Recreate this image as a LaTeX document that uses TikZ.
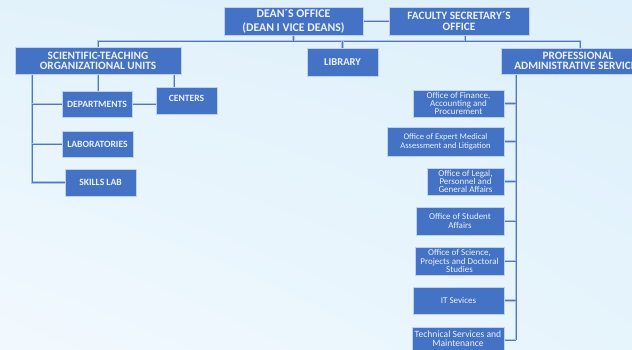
\documentclass[tikz,border=0pt]{standalone}
\usepackage{fontspec}
\setmainfont{Carlito}
\usetikzlibrary{shadings}
\definecolor{boxblue}{RGB}{68,114,196}
\definecolor{boxedge}{RGB}{190,210,238}
\definecolor{lineblue}{RGB}{84,118,194}
\definecolor{halo}{RGB}{170,195,230}
\definecolor{txt}{RGB}{236,241,250}
\definecolor{bgLL}{RGB}{242,249,254}
\definecolor{bgUL}{RGB}{226,242,251}
\definecolor{bgUR}{RGB}{222,240,251}
\definecolor{bgLR}{RGB}{230,244,252}
\pgfdeclarelayer{bglayer}
\pgfdeclarelayer{connlayer}
\pgfsetlayers{bglayer,connlayer,main}
\begin{document}
\begin{tikzpicture}[x=1pt,y=-1pt,
  box/.style={fill=boxblue, draw=boxedge, line width=0.7pt, text=txt, align=center, inner sep=0pt},
  capbox/.style={box, font=\fontsize{11.3}{10}\selectfont\bfseries},
  smallcap/.style={box, font=\fontsize{9.6}{10}\selectfont\bfseries},
  offbox/.style={box, font=\fontsize{9}{8.4}\selectfont},
  conn/.style={draw=lineblue, line width=1pt, preaction={draw=halo, line width=2.2pt}}]
\useasboundingbox (0,0) rectangle (632,349);
\begin{pgfonlayer}{bglayer}
\shade[lower left=bgLL, upper left=bgUL, upper right=bgUR, lower right=bgLR]
  (0,0) rectangle (632,349);
\end{pgfonlayer}
\begin{scope}
\clip (0,0) rectangle (632,349);
% nodes
\node[capbox, minimum width=139, minimum height=28, font=\fontsize{11.8}{10}\selectfont\bfseries] (dean) at (293.5,21)
  {DEAN´S OFFICE\\[4.3pt](DEAN I VICE DEANS)};
\node[capbox, minimum width=140, minimum height=28, font=\fontsize{11.3}{10.7}\selectfont\bfseries] (fsec) at (459,21)
  {FACULTY SECRETARY´S\\OFFICE};
\node[capbox, minimum width=71, minimum height=28, font=\fontsize{10.5}{10}\selectfont\bfseries] (lib) at (342.5,62) {LIBRARY};
\node[capbox, minimum width=154, minimum height=26] (prof) at (578,61)
  {PROFESSIONAL\\ADMINISTRATIVE SERVICES};
\node[capbox, minimum width=166, minimum height=27] (sci) at (98,60.5)
  {SCIENTIFIC-TEACHING\\ORGANIZATIONAL UNITS};
\node[smallcap, minimum width=70, minimum height=26] (dept) at (97,104) {DEPARTMENTS};
\node[smallcap, minimum width=61, minimum height=27, text depth=5pt] (cent) at (186.5,100.5) {CENTERS};
\node[smallcap, minimum width=71, minimum height=26] (labs) at (97.5,144) {LABORATORIES};
\node[smallcap, minimum width=71, minimum height=27] (skill) at (100.5,182.5) {SKILLS LAB};
\node[offbox, minimum width=91, minimum height=27] (fin) at (458.5,103.5) {Office of Finance,\\Accounting and\\Procurement};
\node[offbox, minimum width=117, minimum height=29, font=\fontsize{8.6}{9}\selectfont] (med) at (445.5,141.5) {Office of Expert Medical\\Assessment and Litigation};
\node[offbox, minimum width=77, minimum height=27] (leg) at (465.5,181.5) {Office of Legal,\\Personnel and\\General Affairs};
\node[offbox, minimum width=88, minimum height=28] (stu) at (460,221) {Office of Student\\Affairs};
\node[offbox, minimum width=89, minimum height=28] (scn) at (459.5,261) {Office of Science,\\Projects and Doctoral\\Studies};
\node[offbox, minimum width=91, minimum height=27] (it) at (458.5,300.5) {IT Sevices};
\node[offbox, minimum width=92, minimum height=28, text depth=4pt, font=\fontsize{9.6}{9}\selectfont] (tech) at (458,341) {Technical Services and\\Maintenance};
\end{scope}
% connectors
\begin{pgfonlayer}{connlayer}
\coordinate (busL) at (98,41);
\coordinate (busR) at (580,41);
\coordinate (lv) at (32,74);
\coordinate (rv) at (516,74);
\coordinate (cv) at (174,74);
\coordinate (rvend) at (516,340);
\coordinate (fsx) at (465,35);
\draw[conn] (dean.east) -- (fsec.west);
\draw[conn] (sci.north) -- (busL) -- (busR) -- (prof.north -| busR);
\draw[conn] (dean.south) -- (dean.south |- busL);
\draw[conn] (fsx) -- (fsx |- busL);
\draw[conn] (lib.north) -- (lib.north |- busL);
\draw[conn] (lv) |- (skill.west);
\draw[conn] (lv |- dept.west) -- (dept.west);
\draw[conn] (lv |- labs.west) -- (labs.west);
\draw[conn] (sci.south) -- (sci.south |- dept.north);
\draw[conn] (cv) -- (cv |- cent.north);
\draw[conn] (dept.east) -- (dept.east -| cent.west);
\draw[conn] (rv) -- (rvend);
\foreach \n in {fin,med,leg,stu,scn,it}
  \draw[conn] (\n.east) -- (\n.east -| rv);
\draw[conn] (tech.east |- rvend) -- (rvend);
\end{pgfonlayer}
\end{tikzpicture}
\end{document}
